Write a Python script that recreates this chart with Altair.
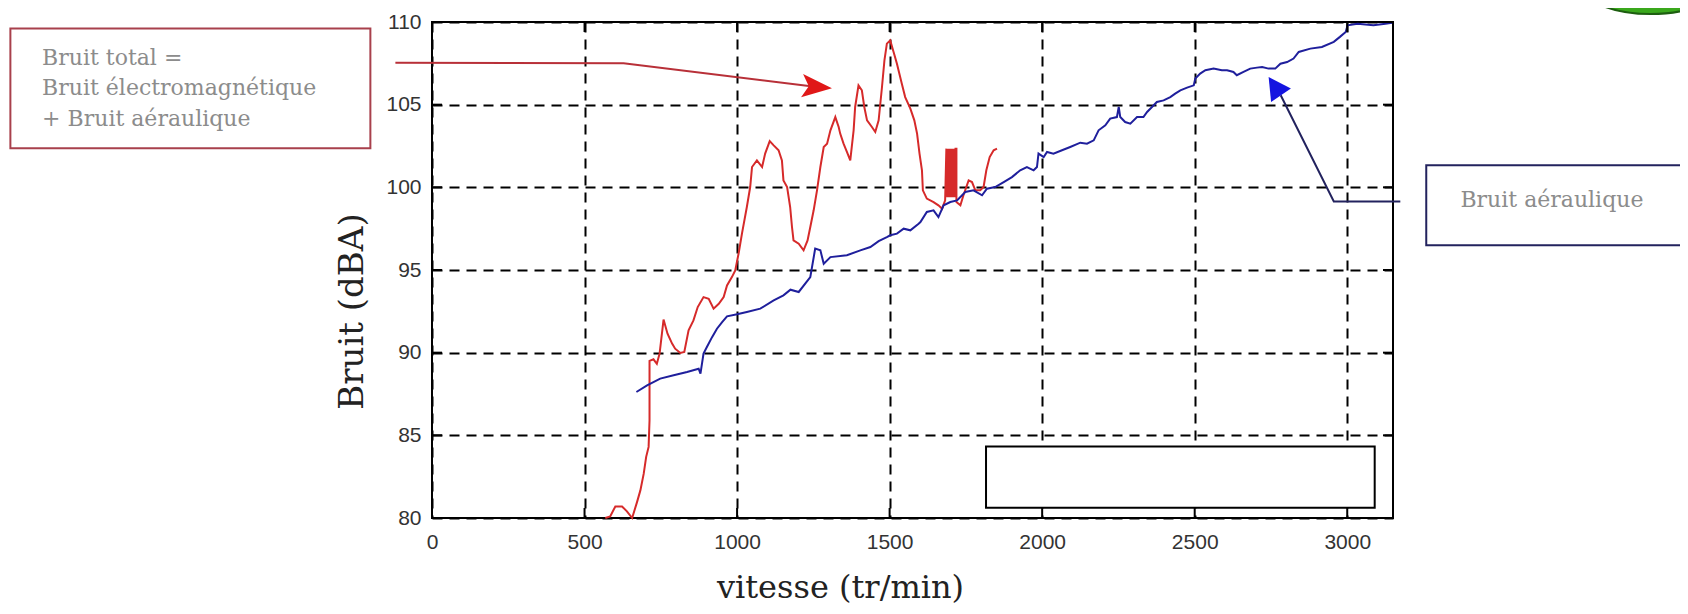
import altair as alt
import pandas as pd

# ---------------- data ----------------
# Bruit total (red): vitesse (tr/min), bruit (dBA)
red_x = [568, 584, 601, 623, 639, 656, 672, 683, 694, 702, 710, 713, 713, 726, 737, 746,
         759, 772, 787, 797, 814, 827, 841, 857, 871, 890, 907, 923, 940, 956, 967, 983,
         994, 1005, 1016, 1032, 1043, 1049, 1065, 1082, 1092, 1107, 1120, 1136, 1147, 1152,
         1164, 1174, 1180, 1185, 1202, 1218, 1231, 1240, 1251, 1262, 1273, 1284, 1295, 1306,
         1322, 1333, 1338, 1349, 1360, 1371, 1382, 1387, 1398, 1409, 1417, 1426, 1442, 1453,
         1464, 1475, 1483, 1491, 1502, 1513, 1524, 1540, 1551, 1568, 1581, 1590, 1598, 1606,
         1609, 1622, 1644, 1660, 1672, 1682, 1686, 1689, 1692, 1695, 1698, 1701, 1704, 1707,
         1710, 1713, 1716, 1719, 1719, 1732, 1742, 1759, 1770, 1781, 1797, 1808, 1817, 1828,
         1841, 1852]
red_y = [80.0, 80.1, 80.7, 80.7, 80.4, 80.0, 80.96, 81.67, 82.68, 83.7, 84.3, 85.9, 89.5, 89.6,
         89.33, 89.94, 92.0, 91.15, 90.55, 90.24, 89.98, 90.04, 91.35, 91.95, 92.76, 93.36,
         93.26, 92.66, 92.96, 93.36, 94.07, 94.57, 94.98, 96.0, 97.2, 98.81, 100.02, 101.23,
         101.63, 101.23, 102.04, 102.8, 102.54, 102.24, 101.63, 100.42, 100.02, 98.81, 97.6,
         96.79, 96.59, 96.19, 96.79, 97.6, 98.61, 99.82, 101.23, 102.44, 102.64, 103.45,
         104.25, 103.65, 103.25, 102.64, 102.14, 101.63, 103.45, 104.86, 106.17, 105.87,
         104.86, 104.05, 103.65, 103.35, 104.05, 106.07, 107.68, 108.69, 108.89, 108.19,
         107.48, 106.27, 105.46, 104.76, 104.05, 103.25, 102.04, 101.03, 99.82, 99.32, 99.11,
         98.91, 98.71, 99.21, 102.34, 99.4, 102.34, 99.4, 102.34, 99.4, 102.34, 99.4, 102.34,
         99.4, 102.34, 102.34, 99.11, 98.91, 99.52, 100.42, 100.32, 99.82, 99.82, 100.02,
         101.03, 101.83, 102.24, 102.34]

# Bruit aeraulique (blue)
blue_x = [670, 705, 748, 792, 836, 874, 880, 890, 901, 918, 934, 951, 967, 1000, 1032, 1076,
          1120, 1152, 1175, 1202, 1240, 1256, 1273, 1284, 1306, 1360, 1404, 1437, 1464, 1491,
          1502, 1524, 1546, 1568, 1595, 1601, 1622, 1644, 1660, 1677, 1699, 1721, 1748, 1775,
          1803, 1819, 1846, 1874, 1901, 1928, 1950, 1972, 1983, 1988, 2005, 2016, 2037, 2065,
          2092, 2125, 2147, 2169, 2185, 2207, 2223, 2245, 2251, 2256, 2272, 2289, 2311, 2332,
          2344, 2360, 2376, 2398, 2420, 2436, 2453, 2475, 2497, 2502, 2518, 2535, 2562, 2589,
          2606, 2627, 2638, 2660, 2682, 2704, 2721, 2742, 2764, 2781, 2803, 2824, 2841, 2879,
          2917, 2956, 2976, 2995, 3001, 3034, 3086, 3125, 3147]
blue_y = [87.62, 88.02, 88.43, 88.63, 88.83, 89.03, 88.73, 89.94, 90.34, 90.94, 91.45, 91.85,
          92.2, 92.32, 92.46, 92.66, 93.16, 93.47, 93.81, 93.67, 94.57, 96.29, 96.19, 95.38,
          95.78, 95.89, 96.19, 96.39, 96.75, 96.99, 97.1, 97.2, 97.5, 97.4, 97.8, 97.9, 98.51,
          98.61, 98.2, 98.91, 99.11, 99.21, 99.72, 99.82, 99.52, 99.92, 100.02, 100.32, 100.62,
          101.03, 101.23, 101.03, 101.23, 102.04, 101.83, 102.14, 102.04, 102.24, 102.44, 102.7,
          102.64, 102.84, 103.45, 103.75, 104.16, 104.25, 104.86, 104.25, 103.95, 103.85,
          104.25, 104.25, 104.56, 104.86, 105.16, 105.26, 105.46, 105.67, 105.87, 106.03,
          106.17, 106.58, 106.88, 107.08, 107.18, 107.08, 107.08, 106.98, 106.78, 106.98,
          107.18, 107.24, 107.28, 107.18, 107.18, 107.48, 107.58, 107.79, 108.19, 108.39,
          108.49, 108.8, 109.1, 109.4, 109.8, 109.9, 109.8, 109.9, 109.95]

x_ticks = [0, 500, 1000, 1500, 2000, 2500, 3000]
y_ticks = [80, 85, 90, 95, 100, 105, 110]

# annotations (in data units)
left_box = {"x": -1382, "x2": -202, "y": 102.36, "y2": 109.6}
left_text_x = [-1278, -1278, -1278]
left_text_y = [107.8, 105.99, 104.11]
left_text = ["Bruit total =", "Bruit électromagnétique", "+ Bruit aéraulique"]
right_box = {"x": 3259, "x2": 4120, "y": 96.49, "y2": 101.33}
right_text = "Bruit aéraulique"
right_text_pos = (3371, 99.21)
red_arrow_x = [-120, 628, 1262]
red_arrow_y = [107.54, 107.5, 106.07]
red_head = (1262, 106.07)
blue_arrow_x = [3174, 2956, 2782]
blue_arrow_y = [99.15, 99.15, 105.57]
blue_head = (2762.6, 106.12)
empty_box = {"x": 1816, "x2": 3090, "y": 80.62, "y2": 84.33}
logo_pos = (3994, 112.3)

# ---------------- chart ----------------
xs = alt.Scale(domain=[0, 3150], nice=False, zero=False)
ys = alt.Scale(domain=[80, 110], nice=False, zero=False)

common = dict(grid=True, gridColor="black", gridDash=[10, 7], gridWidth=2, gridOpacity=1,
              domain=False, ticks=False, labelFont="Liberation Sans", labelFontSize=21,
              labelColor="#333333", labelFlush=False, labelOverlap=False,
              titleFont="DejaVu Serif", titleFontWeight="normal",
              titleColor="#222222", titleAlign="center", format="d")

x_axis = alt.Axis(values=x_ticks, labelPadding=13, title="vitesse (tr/min)",
                  titleX=408, titleY=79, titleFontSize=32, titleBaseline="alphabetic",
                  **common)
y_axis = alt.Axis(values=y_ticks, labelPadding=11, title="Bruit (dBA)", titleAngle=270,
                  titleX=-80, titleY=289, titleFontSize=34, titleBaseline="middle",
                  **common)


def X(f):
    return alt.X(f, scale=xs, axis=x_axis)


def Y(f):
    return alt.Y(f, scale=ys, axis=y_axis)


red_df = pd.DataFrame({"vitesse": red_x, "bruit": red_y, "i": range(len(red_x))})
blue_df = pd.DataFrame({"vitesse": blue_x, "bruit": blue_y, "i": range(len(blue_x))})

red_line = alt.Chart(red_df).mark_line(color="#d62a2a", strokeWidth=2).encode(
    x=X("vitesse:Q"), y=Y("bruit:Q"), order="i:Q")
blue_line = alt.Chart(blue_df).mark_line(color="#1f1f9c", strokeWidth=2).encode(
    x=X("vitesse:Q"), y=Y("bruit:Q"), order="i:Q")

empty = alt.Chart(pd.DataFrame([empty_box])).mark_rect(
    fill="white", stroke="black", strokeWidth=2).encode(
    x=X("x:Q"), x2="x2:Q", y=Y("y:Q"), y2="y2:Q")

xt = pd.DataFrame({"v": x_ticks})
yt = pd.DataFrame({"v": y_ticks})
tick_b = alt.Chart(xt).mark_rule(color="black", strokeWidth=2).encode(
    x=X("v:Q"), y=alt.value(496), y2=alt.value(486))
tick_t = alt.Chart(xt).mark_rule(color="black", strokeWidth=2).encode(
    x=X("v:Q"), y=alt.value(0), y2=alt.value(10))
tick_l = alt.Chart(yt).mark_rule(color="black", strokeWidth=2).encode(
    y=Y("v:Q"), x=alt.value(0), x2=alt.value(10))
tick_r = alt.Chart(yt).mark_rule(color="black", strokeWidth=2).encode(
    y=Y("v:Q"), x=alt.value(961), x2=alt.value(951))

lbox = alt.Chart(pd.DataFrame([left_box])).mark_rect(
    fill="white", stroke="#a8404c", strokeWidth=2).encode(
    x=X("x:Q"), x2="x2:Q", y=Y("y:Q"), y2="y2:Q")
rbox = alt.Chart(pd.DataFrame([right_box])).mark_rect(
    fill="white", stroke="#23235e", strokeWidth=2).encode(
    x=X("x:Q"), x2="x2:Q", y=Y("y:Q"), y2="y2:Q")

ltext = alt.Chart(pd.DataFrame({"x": left_text_x, "y": left_text_y, "t": left_text})).mark_text(
    align="left", baseline="middle", font="DejaVu Serif", fontSize=22, color="#8c8c8c").encode(
    x=X("x:Q"), y=Y("y:Q"), text="t:N")
rtext = alt.Chart(pd.DataFrame({"x": [right_text_pos[0]], "y": [right_text_pos[1]],
                                "t": [right_text]})).mark_text(
    align="left", baseline="middle", font="DejaVu Serif", fontSize=22, color="#8c8c8c").encode(
    x=X("x:Q"), y=Y("y:Q"), text="t:N")

rarrow = alt.Chart(pd.DataFrame({"x": red_arrow_x, "y": red_arrow_y,
                                 "i": range(len(red_arrow_x))})).mark_line(
    color="#b83038", strokeWidth=2).encode(x=X("x:Q"), y=Y("y:Q"), order="i:Q")
rhead = alt.Chart(pd.DataFrame({"x": [red_head[0]], "y": [red_head[1]]})).mark_point(
    shape="M1,0 L-1,-0.78 L-0.55,0 L-1,0.78 Z", size=900, filled=True, opacity=1,
    color="#e01818", angle=5).encode(x=X("x:Q"), y=Y("y:Q"))

barrow = alt.Chart(pd.DataFrame({"x": blue_arrow_x, "y": blue_arrow_y,
                                 "i": range(len(blue_arrow_x))})).mark_line(
    color="#22225e", strokeWidth=2).encode(x=X("x:Q"), y=Y("y:Q"), order="i:Q")
bhead = alt.Chart(pd.DataFrame({"x": [blue_head[0]], "y": [blue_head[1]]})).mark_point(
    shape="M1,0 L-1,-1.09 L-1,1.09 Z", size=484, filled=True, opacity=1,
    color="#1414e0", angle=235.7).encode(x=X("x:Q"), y=Y("y:Q"))

logo = alt.Chart(pd.DataFrame({"x": [logo_pos[0]], "y": [logo_pos[1]]})).mark_point(
    shape="M-1,0 A1,0.43 0 1,0 1,0 A1,0.43 0 1,0 -1,0 Z", size=19600, filled=True,
    opacity=1, fill="#3aa81c", stroke="#1d5e10", strokeWidth=2).encode(
    x=X("x:Q"), y=Y("y:Q"))

chart = alt.layer(
    red_line, blue_line, empty, tick_b, tick_t, tick_l, tick_r,
    lbox, rbox, ltext, rtext, rarrow, rhead, barrow, bhead, logo,
).properties(
    width=961, height=496,
    autosize=alt.AutoSizeParams(type="none"),
    padding={"left": 424, "top": 14, "right": 287, "bottom": 88},
    background="white",
).configure_view(stroke="black", strokeWidth=2)

chart.save("out.html", embed_options={"renderer": "svg", "actions": False})
